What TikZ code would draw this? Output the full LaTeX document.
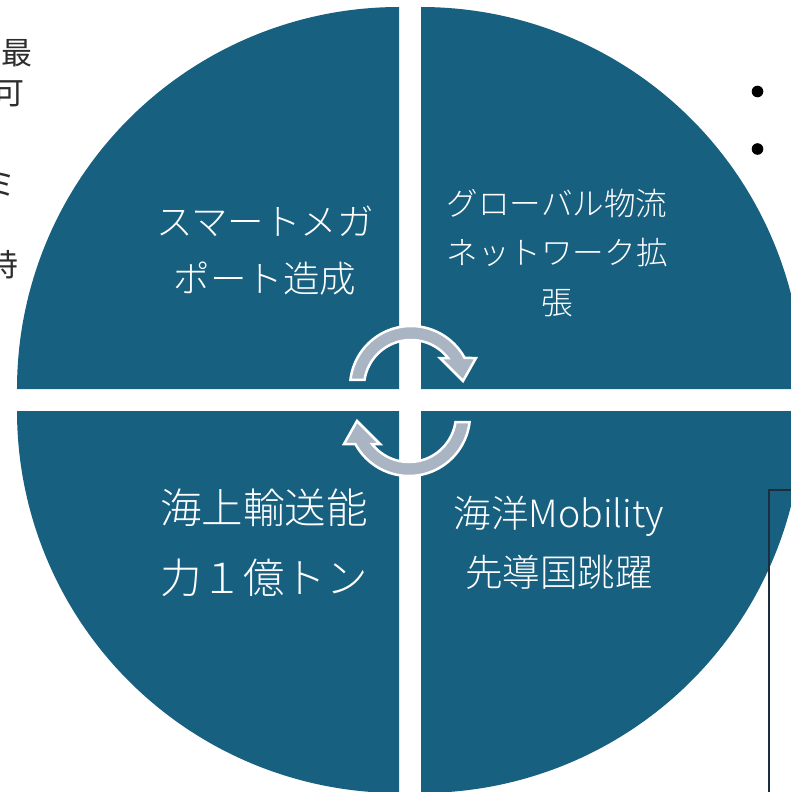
\documentclass[tikz,border=0pt]{standalone}
\usepackage{fontspec}
\newfontfamily\jp{Noto Sans CJK JP Light}
\newfontfamily\jpside{Noto Sans CJK JP}
\definecolor{teal1}{RGB}{23,96,128}
\definecolor{arrowgray}{RGB}{170,181,195}
\definecolor{boxline}{RGB}{30,45,62}
\definecolor{sidetext}{RGB}{45,45,45}
\def\myarrowshape{plot[domain=-173.4:-28.4,samples=60] ({411+61*cos(\x)},{387+61*sin(\x)})
 -- (476,358) -- (463,381) -- (440,358)
 -- plot[domain=-38.1:-171.4,samples=60] ({411+47*cos(\x)},{387+47*sin(\x)})
 -- cycle}
\begin{document}
\begin{tikzpicture}[x=1pt,y=-1pt,
  quad/.style={fill=teal1},
  qtext/.style={text=white, align=center, inner sep=0pt},
  sidechar/.style={text=sidetext, inner sep=0pt, anchor=east, font=\jpside\fontsize{31}{36}\selectfont},
  cyc/.style={fill=arrowgray, draw=white, line width=2.5pt, line join=miter},
  bullet/.style={circle, fill=black, minimum size=11.6pt, inner sep=0pt},
  boxedge/.style={draw=boxline, line width=2pt}]
\useasboundingbox (0,0) rectangle (790,792);
% quadrants
\fill[quad] (399,389) -- plot[domain=180:270,samples=91] ({399+382*cos(\x)},{389+382*sin(\x)}) -- cycle;
\fill[quad] (421,389) -- plot[domain=270:360,samples=91] ({421+382*cos(\x)},{389+382*sin(\x)}) -- cycle;
\fill[quad] (399,411) -- plot[domain=90:180,samples=91] ({399+382*cos(\x)},{411+382*sin(\x)}) -- cycle;
\fill[quad] (421,411) -- plot[domain=0:90,samples=91] ({421+382*cos(\x)},{411+382*sin(\x)}) -- cycle;
% cycle arrows
\filldraw[cyc] \myarrowshape;
\begin{scope}[rotate around={180:(410,401)}]
\filldraw[cyc] \myarrowshape;
\end{scope}
% quadrant texts
\node[qtext, font=\jp\fontsize{36.5}{57}\selectfont] (tl) at (265,251) {スマートメガ\\ポート造成};
\node[qtext, font=\jp\fontsize{31.6}{49.5}\selectfont] (tr) at (557,252.5) {グローバル物流\\ネットワーク拡\\張};
\node[qtext, font=\jp\fontsize{41.5}{70}\selectfont] (bl) at (264,543) {海上輸送能\\力１億トン};
\node[qtext, font=\jp\fontsize{37.5}{59}\selectfont] (br) at (559,542.5) {海洋Mobility\\先導国跳躍};
% cut-off side text
\node[sidechar] (s1) at (33,53) {最};
\node[sidechar] (s2) at (25,94) {可};
\node[sidechar] (s3) at (17,184) {ミ};
\node[sidechar] (s4) at (19,265) {特};
% bullets
\node[bullet] (b1) at (757.5,91.5) {};
\node[bullet] (b2) at (757.5,149) {};
% box at lower right
\coordinate (boxTR) at (800,490);
\coordinate (boxTL) at (769,490);
\coordinate (boxBL) at (769,800);
\draw[boxedge] (boxTR) -- (boxTL) -- (boxBL);
\end{tikzpicture}
\end{document}
